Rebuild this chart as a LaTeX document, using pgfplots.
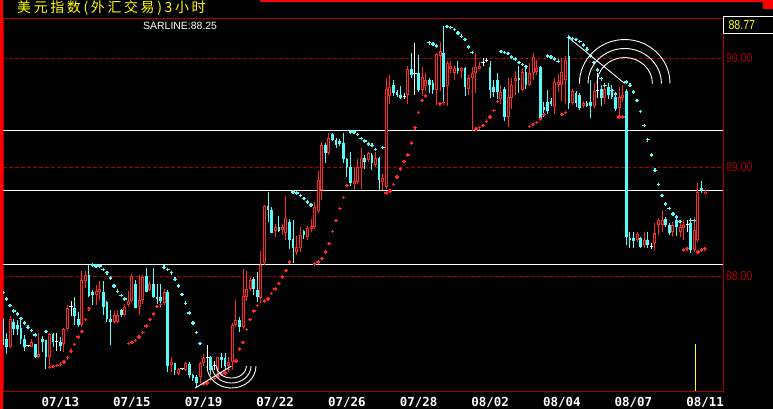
\documentclass[border=0pt]{standalone}
\usepackage{pgfplots}
\pgfplotsset{compat=1.18}
\usepackage{pgfplotstable}
\usepackage{fontspec}
\setmainfont{Liberation Sans}
\newfontfamily\cjk{Noto Sans CJK SC}[LetterSpace=19]
\newfontfamily\mono{DejaVu Sans Mono}
\definecolor{cup}{RGB}{255,40,40}
\definecolor{cdn}{RGB}{84,252,252}
\definecolor{dred}{RGB}{170,0,0}
\definecolor{yel}{RGB}{255,255,0}

% rising (red, hollow) candles: index, open, high, low, close
\pgfplotstableread{
k o h l c
2 87.35 87.63 87.34 87.61
8 87.35 87.42 87.35 87.39
10 87.26 87.48 87.25 87.28
13 87.26 87.48 87.17 87.47
17 87.38 87.52 87.30 87.51
18 87.51 87.73 87.50 87.71
22 87.55 88.05 87.53 87.96
23 87.95 88.05 87.89 88.01
26 87.83 87.92 87.73 87.86
27 87.85 87.95 87.78 87.88
31 87.58 87.68 87.56 87.64
32 87.58 87.69 87.57 87.64
34 87.64 87.74 87.63 87.72
35 87.73 87.86 87.72 87.77
36 87.77 88.02 87.76 88.00
38 87.72 88.01 87.64 87.78
39 87.78 88.01 87.74 87.99
41 87.87 87.95 87.86 87.93
45 87.75 87.88 87.73 87.85
47 87.18 87.26 87.12 87.21
49 87.10 87.16 87.09 87.15
51 87.14 87.21 87.13 87.20
55 87.07 87.21 87.02 87.20
56 87.20 87.28 87.17 87.25
60 87.14 87.26 87.09 87.26
63 87.17 87.26 87.14 87.21
64 87.21 87.57 87.14 87.55
65 87.55 87.78 87.53 87.60
67 87.53 88.06 87.51 87.82
68 87.81 88.05 87.77 87.88
69 87.88 87.99 87.86 87.96
72 87.80 88.23 87.75 88.10
73 88.12 88.65 88.10 88.64
76 88.41 88.48 88.36 88.45
78 88.42 88.48 88.38 88.45
79 88.39 88.73 88.33 88.53
82 88.22 88.37 88.19 88.27
83 88.26 88.45 88.22 88.38
85 88.36 88.46 88.33 88.44
86 88.43 88.52 88.40 88.46
87 88.45 88.68 88.43 88.63
88 88.60 88.96 88.58 88.88
89 88.79 89.23 88.70 89.20
91 89.13 89.31 89.11 89.27
98 88.84 88.99 88.79 88.87
99 88.86 89.07 88.84 89.00
100 88.99 89.17 88.80 89.08
102 89.06 89.14 89.05 89.13
104 89.02 89.14 89.00 89.08
106 88.86 88.94 88.79 88.90
107 88.82 89.82 88.80 89.72
108 89.65 89.84 89.58 89.73
113 89.66 89.93 89.58 89.90
117 89.71 89.92 89.65 89.83
118 89.74 89.86 89.70 89.80
121 89.71 90.05 89.57 90.04
122 90.02 90.15 89.70 90.06
124 89.74 89.97 89.56 89.95
125 89.90 89.97 89.86 89.93
126 89.86 89.94 89.80 89.91
128 89.88 89.92 89.82 89.91
130 89.72 89.84 89.66 89.82
131 89.82 89.92 89.33 89.86
132 89.86 90.05 89.68 89.92
133 89.90 89.96 89.89 89.93
139 89.62 89.75 89.58 89.69
141 89.46 89.82 89.37 89.64
142 89.63 89.82 89.53 89.75
143 89.79 89.88 89.66 89.82
145 89.71 89.91 89.69 89.87
147 89.75 89.95 89.74 89.86
148 89.86 90.05 89.80 90.01
149 89.87 89.98 89.84 89.91
154 89.55 89.82 89.49 89.78
155 89.75 89.85 89.69 89.78
156 89.75 90.00 89.61 89.87
157 89.80 90.02 89.58 89.98
159 89.59 89.72 89.57 89.70
162 89.56 89.61 89.54 89.59
165 89.56 89.77 89.54 89.70
168 89.63 89.75 89.58 89.72
172 89.54 89.73 89.46 89.64
173 89.63 89.75 89.60 89.66
177 88.33 88.40 88.31 88.39
179 88.28 88.40 88.26 88.33
182 88.30 88.49 88.24 88.39
183 88.47 88.53 88.38 88.51
184 88.47 88.61 88.40 88.51
187 88.40 88.50 88.36 88.47
189 88.40 88.50 88.36 88.45
190 88.44 88.51 88.33 88.47
193 88.24 88.54 88.22 88.42
194 88.33 88.85 88.31 88.77
196 88.75 88.79 88.74 88.77
}\tup

% falling (cyan, filled) candles
\pgfplotstableread{
k o h l c
0 87.58 87.61 87.37 87.41
1 87.42 87.48 87.28 87.35
3 87.58 87.61 87.46 87.51
4 87.55 87.60 87.46 87.51
5 87.52 87.61 87.38 87.42
6 87.42 87.46 87.31 87.35
9 87.38 87.38 87.25 87.26
11 87.42 87.45 87.30 87.39
12 87.41 87.41 87.15 87.26
14 87.47 87.48 87.35 87.39
16 87.39 87.44 87.31 87.36
20 87.71 87.81 87.55 87.63
21 87.61 87.67 87.53 87.55
24 88.01 88.10 87.81 87.82
25 87.85 87.87 87.73 87.83
28 87.85 87.95 87.64 87.72
29 87.76 87.77 87.58 87.61
30 87.61 87.69 87.37 87.58
33 87.69 87.70 87.62 87.64
37 87.93 87.96 87.71 87.71
40 88.00 88.07 87.85 87.85
42 87.93 88.07 87.80 87.81
43 87.81 87.93 87.74 87.79
44 87.81 87.93 87.72 87.77
46 87.85 87.87 87.12 87.17
48 87.20 87.20 87.09 87.14
52 87.19 87.21 87.06 87.09
53 87.09 87.10 87.04 87.06
54 87.07 87.09 86.97 87.02
58 87.26 87.27 87.09 87.14
61 87.26 87.29 87.16 87.23
62 87.25 87.29 87.14 87.17
66 87.60 87.62 87.49 87.53
70 87.97 87.99 87.83 87.88
71 87.87 88.04 87.76 87.81
74 88.64 88.77 88.50 88.61
75 88.61 88.63 88.39 88.39
77 88.45 88.55 88.40 88.41
80 88.50 88.52 88.25 88.33
81 88.34 88.51 88.12 88.26
84 88.41 88.42 88.34 88.38
90 89.20 89.22 89.04 89.13
92 89.30 89.31 89.24 89.25
93 89.25 89.27 89.17 89.20
94 89.24 89.26 89.19 89.21
95 89.22 89.31 89.04 89.07
96 89.07 89.08 88.91 89.00
97 89.00 89.14 88.83 88.85
101 89.08 89.11 88.98 89.05
103 89.11 89.13 88.97 89.04
105 89.08 89.09 88.79 88.88
109 89.75 89.80 89.65 89.68
110 89.69 89.71 89.64 89.66
111 89.66 89.74 89.62 89.63
114 89.90 90.05 89.82 89.84
116 89.86 90.03 89.69 89.71
119 89.80 89.82 89.68 89.75
120 89.77 89.80 89.67 89.71
123 90.05 90.29 89.60 89.73
127 89.91 89.97 89.85 89.88
129 89.91 89.92 89.65 89.73
136 89.92 89.97 89.63 89.71
137 89.73 89.80 89.64 89.69
138 89.80 89.86 89.62 89.69
140 89.72 89.73 89.42 89.46
144 89.82 89.93 89.68 89.80
146 89.87 89.91 89.72 89.75
150 89.92 89.93 89.45 89.45
151 89.55 89.60 89.46 89.52
152 89.60 89.71 89.49 89.51
153 89.61 89.63 89.56 89.58
158 90.02 90.21 89.53 89.59
160 89.68 89.70 89.55 89.59
161 89.66 89.68 89.52 89.54
163 89.59 89.61 89.55 89.56
164 89.60 89.80 89.45 89.56
167 89.72 89.75 89.56 89.63
169 89.73 89.77 89.62 89.66
170 89.72 89.75 89.62 89.64
171 89.64 89.67 89.51 89.53
174 89.70 89.72 88.28 88.36
175 88.35 88.40 88.26 88.33
176 88.35 88.40 88.26 88.32
178 88.35 88.36 88.26 88.27
180 88.33 88.40 88.26 88.28
185 88.52 88.54 88.45 88.47
186 88.47 88.49 88.38 88.39
188 88.51 88.53 88.37 88.45
192 88.49 88.53 88.21 88.24
195 88.81 88.87 88.76 88.79
}\tdn

% unchanged (white) candles: index, price, high, low
\pgfplotstableread{
k p h l
7 87.36 87.37 87.35
15 87.40 87.48 87.31
19 87.72 87.77 87.63
50 87.15 87.16 87.14
57 87.25 87.37 87.14
59 87.18 87.22 87.14
112 89.65 89.68 89.62
115 89.86 90.14 89.66
134 89.96 90.00 89.93
135 89.98 90.00 89.96
166 89.70 89.86 89.63
181 88.27 88.30 88.25
191 88.47 88.51 88.40
}\tdoji

% SAR below price (red)
\pgfplotstableread{
k s
13 87.16
14 87.17
15 87.18
16 87.19
17 87.21
18 87.25
19 87.31
20 87.37
21 87.44
22 87.49
23 87.60
24 87.70
35 87.38
36 87.39
37 87.41
38 87.44
39 87.48
40 87.54
41 87.60
42 87.65
43 87.72
44 87.74
56 87.01
57 87.02
58 87.05
59 87.06
60 87.08
61 87.10
62 87.11
63 87.14
65 87.22
66 87.33
67 87.39
68 87.51
69 87.60
70 87.68
71 87.73
73 87.77
74 87.79
75 87.84
76 87.88
77 87.93
78 87.99
79 88.05
80 88.13
87 88.11
88 88.13
89 88.16
90 88.22
91 88.30
92 88.41
93 88.51
94 88.62
95 88.72
96 88.83
107 88.76
108 88.78
109 88.84
110 88.91
111 88.98
112 89.05
113 89.11
114 89.22
115 89.36
116 89.50
117 89.61
118 89.65
122 89.58
123 89.59
132 89.35
133 89.36
134 89.38
135 89.42
136 89.46
137 89.52
138 89.60
147 89.37
148 89.39
149 89.41
150 89.44
151 89.48
156 89.48
157 89.50
172 89.46
173 89.46
190 88.24
191 88.25
194 88.22
195 88.24
196 88.25
}\tsarup

% SAR above price (cyan)
\pgfplotstableread{
k s
0 87.85
1 87.79
2 87.73
3 87.68
4 87.65
5 87.61
6 87.57
7 87.53
8 87.50
9 87.46
12 87.49
25 88.10
26 88.09
27 88.09
28 88.06
29 88.03
30 87.98
31 87.91
32 87.86
33 87.82
34 87.79
45 88.08
46 88.06
47 88.03
48 87.97
49 87.91
50 87.83
51 87.75
52 87.66
53 87.57
54 87.48
55 87.38
81 88.77
82 88.76
83 88.74
84 88.71
85 88.68
86 88.65
97 89.32
98 89.32
99 89.30
100 89.26
101 89.24
102 89.21
103 89.20
104 89.16
106 89.18
119 90.14
120 90.13
121 90.11
124 90.29
125 90.28
126 90.26
127 90.23
128 90.20
129 90.17
130 90.10
131 90.05
139 90.06
140 90.05
141 90.04
142 90.01
143 89.99
144 89.96
145 89.94
146 89.92
152 90.02
153 90.01
154 89.99
155 89.97
158 90.19
159 90.18
160 90.17
161 90.15
162 90.12
163 90.08
164 90.02
165 89.96
166 89.89
167 89.81
168 89.75
169 89.73
170 89.70
171 89.67
174 89.78
175 89.75
176 89.69
177 89.61
178 89.51
179 89.38
180 89.25
181 89.11
182 88.97
183 88.84
184 88.74
185 88.66
186 88.62
187 88.57
188 88.54
189 88.50
192 88.51
193 88.51
}\tsardn

\begin{document}
\begin{tikzpicture}
\fill[black] (0,0) rectangle (773bp,409bp);
\useasboundingbox (0,0) rectangle (773bp,409bp);
\begin{axis}[
  at={(3bp,18bp)}, anchor=south west,
  width=720bp, height=372bp, scale only axis,
  xmin=0, xmax=201, ymin=86.945, ymax=90.358,
  axis line style={dred, line width=1bp},
  xtick={16,36,56,76,96,116,136,156,176,196},
  xticklabels={07/13,07/15,07/19,07/22,07/26,07/28,08/02,08/04,08/07,08/11},
  ytick={88,89,90},
  yticklabels={\scalebox{0.82}[1]{88.00},\scalebox{0.82}[1]{89.00},\scalebox{0.82}[1]{90.00}},
  yticklabel pos=right,
  major tick length=0pt,
  ymajorgrids,
  grid style={dred, line width=1bp, dash pattern=on 3.5bp off 2.5bp},
  xticklabel style={font=\mono\bfseries\fontsize{12.5}{12.5}\selectfont, text=white, anchor=north, inner sep=0pt, yshift=-5.7bp},
  yticklabel style={font=\fontsize{13}{13}\selectfont, text=dred, anchor=west, inner sep=0pt, xshift=2.7bp},
]
% reference levels
\addplot[white, line width=1bp] coordinates {(0,89.339) (201,89.339)};
\addplot[white, line width=1bp] coordinates {(0,88.789) (201,88.789)};
\addplot[white, line width=1bp] coordinates {(0,88.110) (201,88.110)};
% falling candles
\addplot[cdn, line width=1bp, quiver={u=0, v=\thisrow{h}-\thisrow{l}}] table[x=k, y=l] {\tdn};
\addplot[cdn, line width=2.6bp, quiver={u=0, v=\thisrow{o}-\thisrow{c}}] table[x=k, y=c] {\tdn};
% rising candles
\addplot[cup, line width=1bp, quiver={u=0, v=\thisrow{h}-\thisrow{l}}] table[x=k, y=l] {\tup};
\addplot[cup, line width=3bp, quiver={u=0, v=\thisrow{c}-\thisrow{o}}] table[x=k, y=o] {\tup};
\addplot[black, line width=1bp, quiver={u=0, v=\thisrow{c}-\thisrow{o}-0.0184}] table[x=k, y expr=\thisrow{o}+0.0092] {\tup};
% unchanged candles
\addplot[white, line width=1bp, quiver={u=0, v=\thisrow{h}-\thisrow{l}}] table[x=k, y=l] {\tdoji};
\addplot[white, line width=1bp, quiver={u=0.9, v=0}] table[x expr=\thisrow{k}-0.45, y=p] {\tdoji};
% SAR
\addplot[only marks, mark=+, mark size=1.8bp, cup, mark options={line width=1.4bp}] table[x=k, y=s] {\tsarup};
\addplot[only marks, mark=+, mark size=1.8bp, cdn, mark options={line width=1.4bp}] table[x=k, y=s] {\tsardn};
% drawing tools (Fibonacci arcs): anchor points
\coordinate (s1) at (axis cs:53.6,86.972);
\coordinate (c1) at (axis cs:63.79,87.174);
\coordinate (s2) at (axis cs:157.81,90.190);
\coordinate (c2) at (axis cs:173.56,89.766);
\coordinate (cur1) at (axis cs:193.2,86.945);
\coordinate (cur2) at (axis cs:193.2,87.376);
\end{axis}
\begin{scope}[white, line width=0.9bp]
\draw (s1) -- (c1);
\draw (c1) ++(-15bp,0) arc[start angle=180, end angle=360, x radius=15bp, y radius=12bp];
\draw (c1) ++(-19.5bp,0) arc[start angle=180, end angle=360, x radius=19.5bp, y radius=17bp];
\draw (c1) ++(-24.5bp,0) arc[start angle=180, end angle=360, x radius=24.5bp, y radius=22bp];
\draw (s2) -- (c2);
\draw (c2) ++(-27.7bp,0) arc[start angle=180, end angle=0, x radius=27.7bp, y radius=26bp];
\draw (c2) ++(-36.7bp,0) arc[start angle=180, end angle=0, x radius=36.7bp, y radius=35bp];
\draw (c2) ++(-45.3bp,0) arc[start angle=180, end angle=0, x radius=45.3bp, y radius=44bp];
\end{scope}
\draw[yel, line width=1bp] (cur1) -- (cur2);
% frame decorations
\fill[red] (0,0) rectangle (3bp,409bp);
\fill[red] (260bp,407.3bp) rectangle (773bp,409bp);
\fill[red] (763bp,400bp) rectangle (773bp,409bp);
\draw[white, line width=1bp] (773bp,392.3bp) -- (723bp,392.3bp) -- (723bp,375.7bp) -- (773bp,375.7bp);
\node[anchor=base west, inner sep=0pt, text=yel] at (17bp,396.5bp) {\cjk\fontsize{14}{14}\selectfont 美元指数(外汇交易)3小时};
\node[anchor=base west, inner sep=0pt, text=white] at (143bp,379.7bp) {\fontsize{10.5}{10.5}\selectfont SARLINE:88.25};
\node[anchor=base west, inner sep=0pt, text=yel] at (728.3bp,379bp) {\fontsize{13}{13}\selectfont\scalebox{0.82}[1]{88.77}};
\end{tikzpicture}
\end{document}
